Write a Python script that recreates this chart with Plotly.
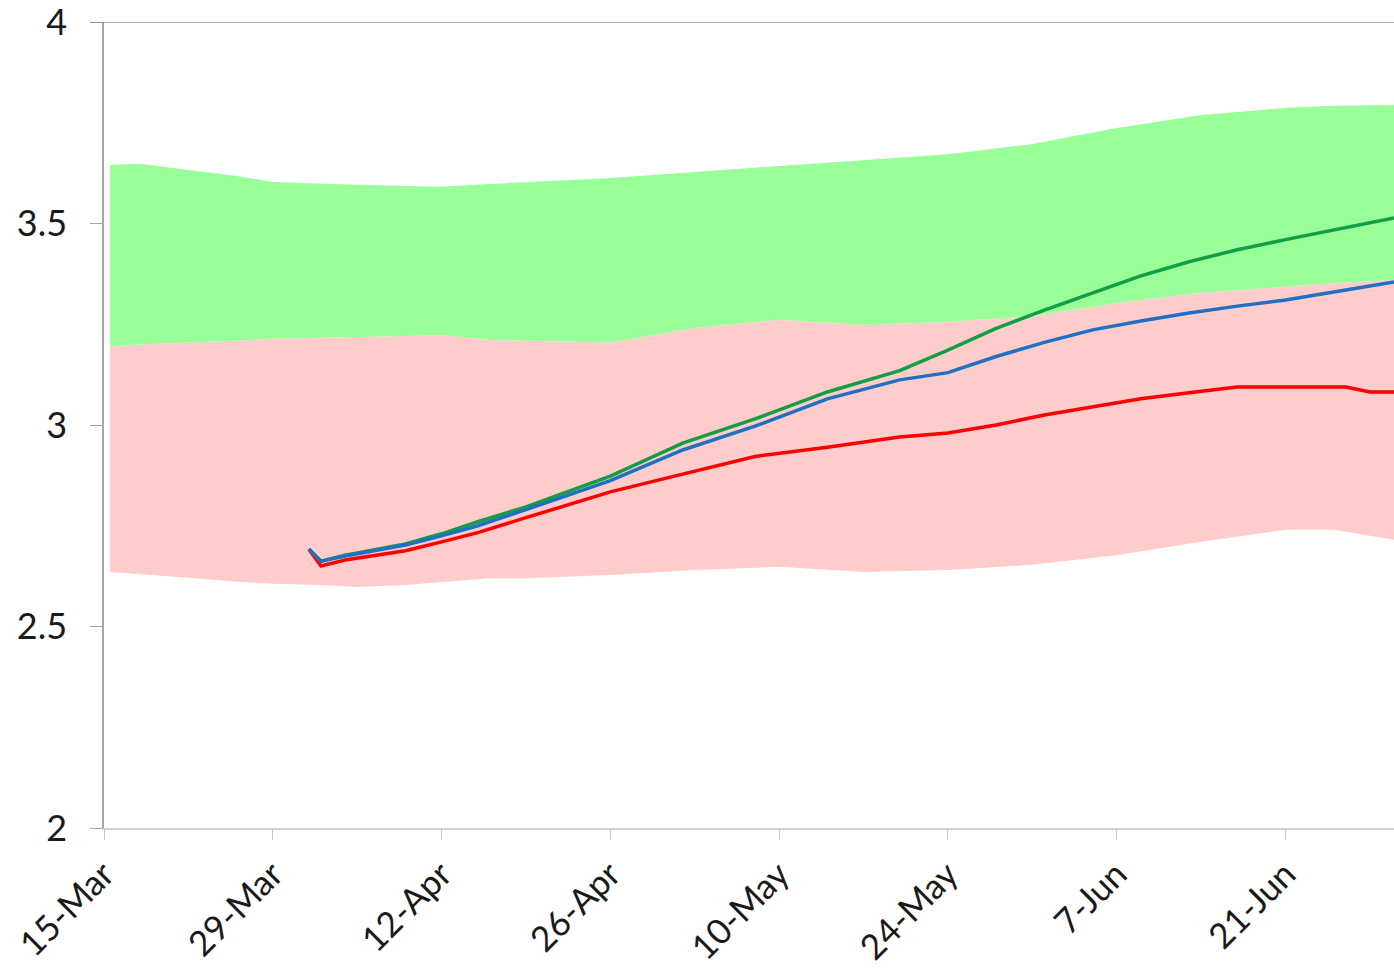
import plotly.graph_objects as go

# Band edges (green band = upper..mid, pink band = mid..lower)
band_dates = [
    "2020-03-15 12:00", "2020-03-18", "2020-03-22", "2020-03-26", "2020-03-29",
    "2020-04-02", "2020-04-05", "2020-04-09", "2020-04-12", "2020-04-16",
    "2020-04-19", "2020-04-26", "2020-05-03", "2020-05-10", "2020-05-17",
    "2020-05-24", "2020-05-31", "2020-06-07", "2020-06-14", "2020-06-21",
    "2020-06-25", "2020-06-30",
]
band_upper = [3.645, 3.648, 3.633, 3.618, 3.603, 3.598, 3.596, 3.593, 3.591, 3.598, 3.603,
              3.613, 3.628, 3.643, 3.658, 3.672, 3.697, 3.737, 3.769, 3.787, 3.792, 3.794]
band_mid = [3.195, 3.200, 3.205, 3.209, 3.214, 3.216, 3.219, 3.221, 3.223, 3.211, 3.209,
            3.205, 3.241, 3.261, 3.248, 3.256, 3.270, 3.303, 3.328, 3.343, 3.352, 3.360]
band_lower = [2.635, 2.630, 2.621, 2.611, 2.606, 2.603, 2.598, 2.603, 2.611, 2.620, 2.620,
              2.628, 2.640, 2.648, 2.635, 2.640, 2.653, 2.677, 2.710, 2.740, 2.740, 2.715]

# Lines
line_dates = [
    "2020-04-01", "2020-04-02", "2020-04-04", "2020-04-09", "2020-04-12",
    "2020-04-15", "2020-04-19", "2020-04-26", "2020-05-02", "2020-05-08",
    "2020-05-14", "2020-05-20", "2020-05-24", "2020-05-28", "2020-06-01",
    "2020-06-05", "2020-06-09", "2020-06-13", "2020-06-17", "2020-06-21",
    "2020-06-26", "2020-06-28", "2020-06-30",
]
green_vals = [2.692, 2.662, 2.677, 2.705, 2.730, 2.760, 2.797, 2.873, 2.955, 3.015, 3.082, 3.135,
              3.186, 3.240, 3.285, 3.328, 3.370, 3.405, 3.435, 3.460, 3.490, 3.500, 3.514]
blue_vals = [2.692, 2.662, 2.675, 2.702, 2.725, 2.750, 2.790, 2.862, 2.938, 2.997, 3.065, 3.112,
             3.130, 3.170, 3.205, 3.236, 3.258, 3.278, 3.295, 3.310, 3.335, 3.345, 3.355]
red_vals = [2.692, 2.650, 2.665, 2.688, 2.710, 2.733, 2.770, 2.834, 2.878, 2.922, 2.945, 2.970,
            2.980, 3.000, 3.025, 3.045, 3.065, 3.080, 3.094, 3.094, 3.094, 3.082, 3.082]

y_ticks = [2, 2.5, 3, 3.5, 4]

fig = go.Figure()

fig.add_trace(go.Scatter(x=band_dates, y=band_lower, mode="lines",
                         line=dict(width=0), hoverinfo="skip", showlegend=False))
fig.add_trace(go.Scatter(x=band_dates, y=band_mid, mode="lines", fill="tonexty",
                         fillcolor="#FFCCCC", line=dict(width=0), showlegend=False))
fig.add_trace(go.Scatter(x=band_dates, y=band_upper, mode="lines", fill="tonexty",
                         fillcolor="#99FF99", line=dict(width=0), showlegend=False))

fig.add_trace(go.Scatter(x=line_dates, y=red_vals, mode="lines",
                         line=dict(color="#FF0000", width=3.5), showlegend=False))
fig.add_trace(go.Scatter(x=line_dates, y=green_vals, mode="lines",
                         line=dict(color="#119E44", width=3.5), showlegend=False))
fig.add_trace(go.Scatter(x=line_dates, y=blue_vals, mode="lines",
                         line=dict(color="#1F6FC5", width=3.5), showlegend=False))

# top border of plot area
fig.add_shape(type="line", xref="paper", yref="y", x0=-0.01, x1=1, y0=4, y1=4,
              line=dict(color="#8C8C8C", width=1.5))

fig.update_layout(
    width=1394, height=975,
    margin=dict(l=104, r=0, t=22, b=147),
    plot_bgcolor="white", paper_bgcolor="white",
    font=dict(family="Lato", color="#1a1a1a"),
    xaxis=dict(
        type="date",
        range=["2020-03-15", "2020-06-30"],
        tick0="2020-03-15", dtick=14 * 86400000,
        tickformat="%-d-%b", tickangle=-45,
        tickfont=dict(size=35),
        showgrid=False, zeroline=False,
        showline=True, linecolor="#D0D0D0", linewidth=1.5,
        ticks="outside", ticklen=10, tickcolor="#C8C8C8",
    ),
    yaxis=dict(
        range=[2, 4], tickvals=y_ticks,
        tickfont=dict(size=36),
        showgrid=False, zeroline=False,
        showline=True, linecolor="#A6A6A6", linewidth=1.5,
        ticks="outside", ticklen=12, tickcolor="#A6A6A6",
        ticklabelstandoff=16, ticklabeloverflow="allow",
    ),
)

fig.write_html("out.html", config={"displayModeBar": False},
               post_script="document.body.style.margin='0';document.body.style.overflow='hidden';")
